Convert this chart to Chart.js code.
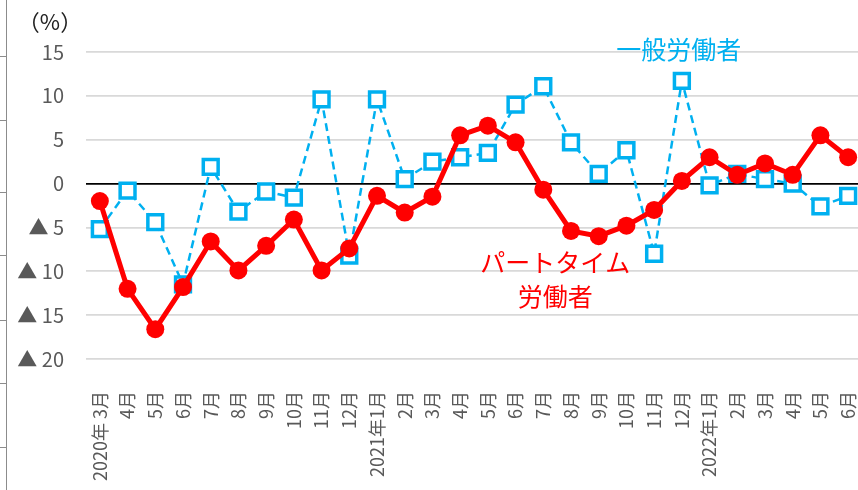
<!DOCTYPE html>
<html>
<head>
<meta charset="utf-8">
<script src="https://cdn.jsdelivr.net/npm/chart.js@4/dist/chart.umd.min.js"></script>
<style>
  html, body { margin: 0; padding: 0; background: #fff; overflow: hidden; }
  #wrap { width: 862px; height: 490px; }
</style>
</head>
<body>
<div id="wrap"><canvas id="chart" width="862" height="490"></canvas></div>
<script>
// months, 2020年3月 - 2022年6月
const months = [
  '2020年 3月', '4月', '5月', '6月', '7月', '8月', '9月', '10月', '11月', '12月',
  '2021年1月', '2月', '3月', '4月', '5月', '6月', '7月', '8月', '9月', '10月', '11月', '12月',
  '2022年1月', '2月', '3月', '4月', '5月', '6月'
];

// パートタイム労働者 (%)
const partTime = [
  -2.0, -12.0, -16.6, -11.8, -6.6, -9.9, -7.1, -4.1, -9.9, -7.4,
  -1.4, -3.3, -1.5, 5.5, 6.6, 4.7, -0.7, -5.4, -6.0, -4.8, -3.0, 0.3,
  3.0, 1.0, 2.3, 1.0, 5.5, 3.0
];

// 一般労働者 (%)
const general = [
  -5.2, -0.8, -4.4, -11.5, 1.9, -3.2, -0.9, -1.6, 9.6, -8.2,
  9.6, 0.5, 2.5, 3.0, 3.5, 9.0, 11.1, 4.7, 1.1, 3.8, -8.0, 11.7,
  -0.2, 1.1, 0.5, 0.0, -2.6, -1.4
];

const yTicks = [15, 10, 5, 0, -5, -10, -15, -20];

const FONT = '"Noto Sans CJK JP", "Noto Sans", sans-serif';
const RED = '#FF0000';
const BLUE = '#00B0F0';

// extra text + left frame line
const decorations = {
  id: 'decorations',
  afterDraw(chart) {
    const ctx = chart.ctx;
    const x = chart.scales.x;
    const y = chart.scales.y;
    ctx.save();

    // outer frame line on the left edge
    ctx.strokeStyle = '#8c8c8c';
    ctx.lineWidth = 1;
    ctx.beginPath();
    ctx.moveTo(6.5, 0);
    ctx.lineTo(6.5, 490);
    [56, 120, 192, 255, 320, 383, 447].forEach(t => {
      ctx.moveTo(0, t + 0.5);
      ctx.lineTo(6.5, t + 0.5);
    });
    ctx.stroke();

    ctx.textAlign = 'center';
    ctx.textBaseline = 'middle';

    ctx.fillStyle = '#222';
    ctx.font = '22px ' + FONT;
    ctx.fillText('（%）', 50, 22);

    ctx.font = '25px ' + FONT;
    ctx.fillStyle = BLUE;
    ctx.fillText('一般労働者', x.getPixelForValue(21) - 3, y.getPixelForValue(15.3));

    ctx.fillStyle = RED;
    ctx.fillText('パートタイム', x.getPixelForValue(16) + 12, y.getPixelForValue(-9.0));
    ctx.fillText('労働者', x.getPixelForValue(16) + 12, y.getPixelForValue(-12.9));

    ctx.restore();
  }
};

new Chart(document.getElementById('chart'), {
  type: 'line',
  data: {
    labels: months,
    datasets: [
      {
        label: 'パートタイム労働者',
        data: partTime,
        borderColor: RED,
        backgroundColor: RED,
        borderWidth: 5,
        pointStyle: 'circle',
        pointRadius: 9,
        pointBackgroundColor: RED,
        pointBorderWidth: 0,
        tension: 0,
        order: 0
      },
      {
        label: '一般労働者',
        data: general,
        borderColor: BLUE,
        backgroundColor: '#fff',
        borderWidth: 2.5,
        borderDash: [8, 5],
        pointStyle: 'rect',
        pointRadius: 10.5,
        pointBorderWidth: 3.5,
        pointBorderColor: BLUE,
        pointBackgroundColor: '#fff',
        tension: 0,
        order: 1
      }
    ]
  },
  options: {
    responsive: false,
    animation: false,
    devicePixelRatio: 1,
    layout: { autoPadding: false, padding: { top: 52, left: 0, right: 0, bottom: 0 } },
    plugins: {
      legend: { display: false },
      title: { display: false },
      tooltip: { enabled: false }
    },
    scales: {
      x: {
        offset: true,
        grid: { display: false, drawTicks: false, tickLength: 0 },
        border: { display: false },
        ticks: {
          autoSkip: false,
          maxRotation: 90,
          minRotation: 90,
          padding: 32,
          color: '#595959',
          font: { family: FONT, size: 18 }
        },
        afterFit: scale => {
          scale.height = 131;
          scale.paddingLeft = 0;
          scale.paddingRight = 0;
        }
      },
      y: {
        min: -20,
        max: 15,
        afterBuildTicks: scale => { scale.ticks = yTicks.map(v => ({ value: v })); },
        grid: {
          drawTicks: false,
          tickLength: 0,
          color: c => c.tick.value === 0 ? '#000' : '#d9d9d9',
          lineWidth: 1.8
        },
        border: { display: false },
        ticks: {
          padding: 22,
          color: '#595959',
          font: { family: FONT, size: 20 },
          callback: v => v < 0 ? '▲ ' + Math.abs(v) : String(v)
        },
        afterFit: scale => {
          scale.width = 86;
          scale.paddingTop = 0;
          scale.paddingBottom = 0;
        }
      }
    }
  },
  plugins: [decorations]
});
</script>
</body>
</html>
